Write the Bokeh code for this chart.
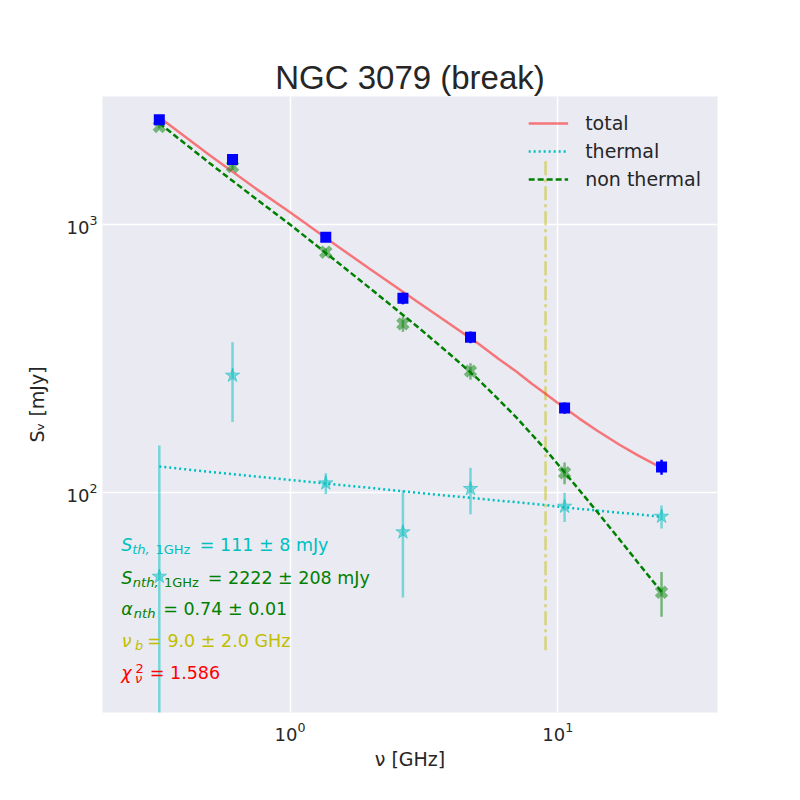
import numpy as np
from bokeh.plotting import figure
from bokeh.models import Label, Legend, LegendItem, FixedTicker
from bokeh.embed import file_html
from bokeh.resources import INLINE

# ---- data ----
freq = [0.325, 0.61, 1.36, 2.64, 4.72, 10.6, 24.4]
total_flux = [2462, 1750, 896, 530, 379, 206, 124]
total_err = [50, 60, 25, 27, 19, 10, 8]
thermal_flux = [48.3, 272.7, 107.9, 70.8, 102.8, 88.3, 81.0]
thermal_err = [101, 90, 9.7, 30.5, 20.3, 11, 8]
nonthermal_flux = [2325, 1648, 788, 425, 283, 118, 42.2]
nonthermal_err = [40, 50, 25, 28, 20, 11, 8]

model_freq = [0.325, 0.5, 0.75, 1.0, 1.5, 2.0, 3.0, 4.0, 5.0, 6.0, 7.0, 8.0, 9.0,
              10.0, 12.0, 14.0, 17.0, 20.0, 24.4]
model_total = [2515, 1817, 1356, 1111, 831, 679, 513, 421, 361, 315, 282, 254, 233,
               215, 188.5, 169.8, 150.2, 136.7, 123.0]
model_thermal = [124.5, 119.0, 114.2, 111.0, 106.6, 103.6, 99.4, 96.6, 94.6, 92.9, 91.6,
                 90.4, 89.4, 88.2, 86.5, 85.3, 83.7, 82.5, 80.7]
model_nonthermal = [2390, 1698, 1242, 1000, 724, 575, 414, 324, 266, 222, 190, 164, 144,
                    127, 102, 84.5, 66.5, 54.2, 42.3]
nu_break = 9.0
break_line_extent = [25.6, 1765]

x_ticks = [1, 10]
y_ticks = [100, 1000]

title_text = "NGC 3079 (break)"
x_label = "ν [GHz]"
y_label = "Sᵥ [mJy]"

TXT = "#262626"
BG = "#EAEAF2"
RED = "#FF0000"
CYAN = "#00BFBF"
GREEN = "#008000"
OLIVE = "#BFBF00"

p = figure(width=784, height=784, x_axis_type="log", y_axis_type="log",
           x_range=(0.1994, 39.48), y_range=(14.99, 3009),
           min_border_left=102, min_border_right=67, min_border_top=96, min_border_bottom=72,
           output_backend="svg", toolbar_location=None)

p.background_fill_color = BG
p.border_fill_color = "white"
p.outline_line_color = None

p.title.text = title_text
p.title.align = "center"
p.title.text_font = "Liberation Sans"
p.title.text_font_size = "33px"
p.title.text_font_style = "normal"
p.title.text_color = TXT
p.title.standoff = 2

for ax in (p.xaxis[0], p.yaxis[0]):
    ax.axis_line_color = None
    ax.major_tick_line_color = None
    ax.minor_tick_line_color = None
    ax.major_tick_in = 0
    ax.major_tick_out = 0
    ax.minor_tick_in = 0
    ax.minor_tick_out = 0
    ax.major_label_text_font = "DejaVu Sans"
    ax.major_label_text_font_size = "18px"
    ax.major_label_text_color = TXT
    ax.axis_label_text_font = "DejaVu Sans"
    ax.axis_label_text_font_size = "19px"
    ax.axis_label_text_font_style = "normal"
    ax.axis_label_text_color = TXT

p.xaxis.ticker = FixedTicker(ticks=x_ticks, minor_ticks=[])
p.yaxis.ticker = FixedTicker(ticks=y_ticks, minor_ticks=[])
p.xaxis.axis_label = x_label
p.yaxis.axis_label = y_label
p.xaxis.major_label_standoff = 9
p.yaxis.major_label_standoff = 5
p.xaxis.axis_label_standoff = 4
p.yaxis.axis_label_standoff = 16

p.xgrid.grid_line_color = "white"
p.ygrid.grid_line_color = "white"
p.xgrid.grid_line_width = 1.5
p.ygrid.grid_line_width = 1.5
p.xgrid.minor_grid_line_color = None
p.ygrid.minor_grid_line_color = None

# vertical break line
p.line([nu_break, nu_break], break_line_extent, line_color=OLIVE, line_alpha=0.5,
       line_width=2.5, line_dash="14 4 3 4")

# model lines
r_total = p.line(model_freq, model_total, line_color=RED, line_alpha=0.5, line_width=2.5)
r_th = p.line(model_freq, model_thermal, line_color=CYAN, line_width=2.5, line_dash="2 3")
r_nth = p.line(model_freq, model_nonthermal, line_color=GREEN, line_width=2.5, line_dash="6 3")

# error bars
def err_bounds(vals, errs):
    lo = [max(v - e, 1e-3) for v, e in zip(vals, errs)]
    hi = [v + e for v, e in zip(vals, errs)]
    return lo, hi

lo, hi = err_bounds(thermal_flux, thermal_err)
p.segment(freq, lo, freq, hi, line_color=CYAN, line_alpha=0.5, line_width=2.5)
p.scatter(freq, thermal_flux, marker="star", size=15, fill_color=CYAN, fill_alpha=0.5,
          line_color=CYAN, line_alpha=0.5, line_width=1)

lo, hi = err_bounds(nonthermal_flux, nonthermal_err)
p.segment(freq, lo, freq, hi, line_color=GREEN, line_alpha=0.5, line_width=2.5)
p.scatter(freq, nonthermal_flux, marker="x", size=14, line_color=GREEN, line_alpha=0.5,
          line_width=5)

lo, hi = err_bounds(total_flux, total_err)
p.segment(freq, lo, freq, hi, line_color="blue", line_width=2.5)
p.scatter(freq, total_flux, marker="square", size=11, fill_color="blue", line_color=None)

legend = Legend(items=[LegendItem(label="total", renderers=[r_total]),
                       LegendItem(label="thermal", renderers=[r_th]),
                       LegendItem(label="non thermal", renderers=[r_nth])],
                location="top_right")
legend.background_fill_alpha = 0
legend.border_line_color = None
legend.label_text_font = "DejaVu Sans"
legend.label_text_font_size = "19px"
legend.label_text_color = TXT
legend.glyph_width = 40
legend.glyph_height = 20
legend.label_height = 20
legend.label_standoff = 17
legend.spacing = 6
legend.padding = 8
legend.margin = 16
p.add_layout(legend)

# fit annotations (positions in frame pixels)
def piece(text, x, y, color, size, italic=False):
    p.add_layout(Label(x=x, y=y, x_units="screen", y_units="screen", text=text,
                       text_color=color, text_font="DejaVu Sans",
                       text_font_size=size, text_font_style="italic" if italic else "normal",
                       text_baseline="alphabetic", text_align="left"))

M = "17.5px"
S = "13px"
dy = 6
# line 1
piece("S", 18.7, 161.3 + dy, CYAN, M, True)
piece("th,", 29.7, 157.0 + dy, CYAN, S, True)
piece("1GHz", 53.0, 157.0 + dy, CYAN, S)
piece("= 111 ± 8 mJy", 97.3, 161.3 + dy, CYAN, M)
# line 2
piece("S", 18.7, 128.7 + dy, GREEN, M, True)
piece("nth,", 30.3, 124.4 + dy, GREEN, S, True)
piece("1GHz", 61.5, 124.4 + dy, GREEN, S)
piece("= 2222 ± 208 mJy", 105.3, 128.7 + dy, GREEN, M)
# line 3
piece("α", 18.7, 97.7 + dy, GREEN, M, True)
piece("nth", 31.3, 93.4 + dy, GREEN, S, True)
piece("= 0.74 ± 0.01", 60.7, 97.7 + dy, GREEN, M)
# line 4
piece("ν", 19.2, 65.3 + dy, OLIVE, M, True)
piece("b", 32.5, 61.0 + dy, OLIVE, S, True)
piece("= 9.0 ± 2.0 GHz", 44.7, 65.3 + dy, OLIVE, M)
# line 5
piece("χ", 18.7, 33.7 + dy, RED, M, True)
piece("2", 33.0, 38.5 + dy, RED, S)
piece("ν", 32.5, 28.5 + dy, RED, S, True)
piece("= 1.586", 47.3, 33.7 + dy, RED, M)

open("out.html", "w").write(file_html(p, INLINE))
